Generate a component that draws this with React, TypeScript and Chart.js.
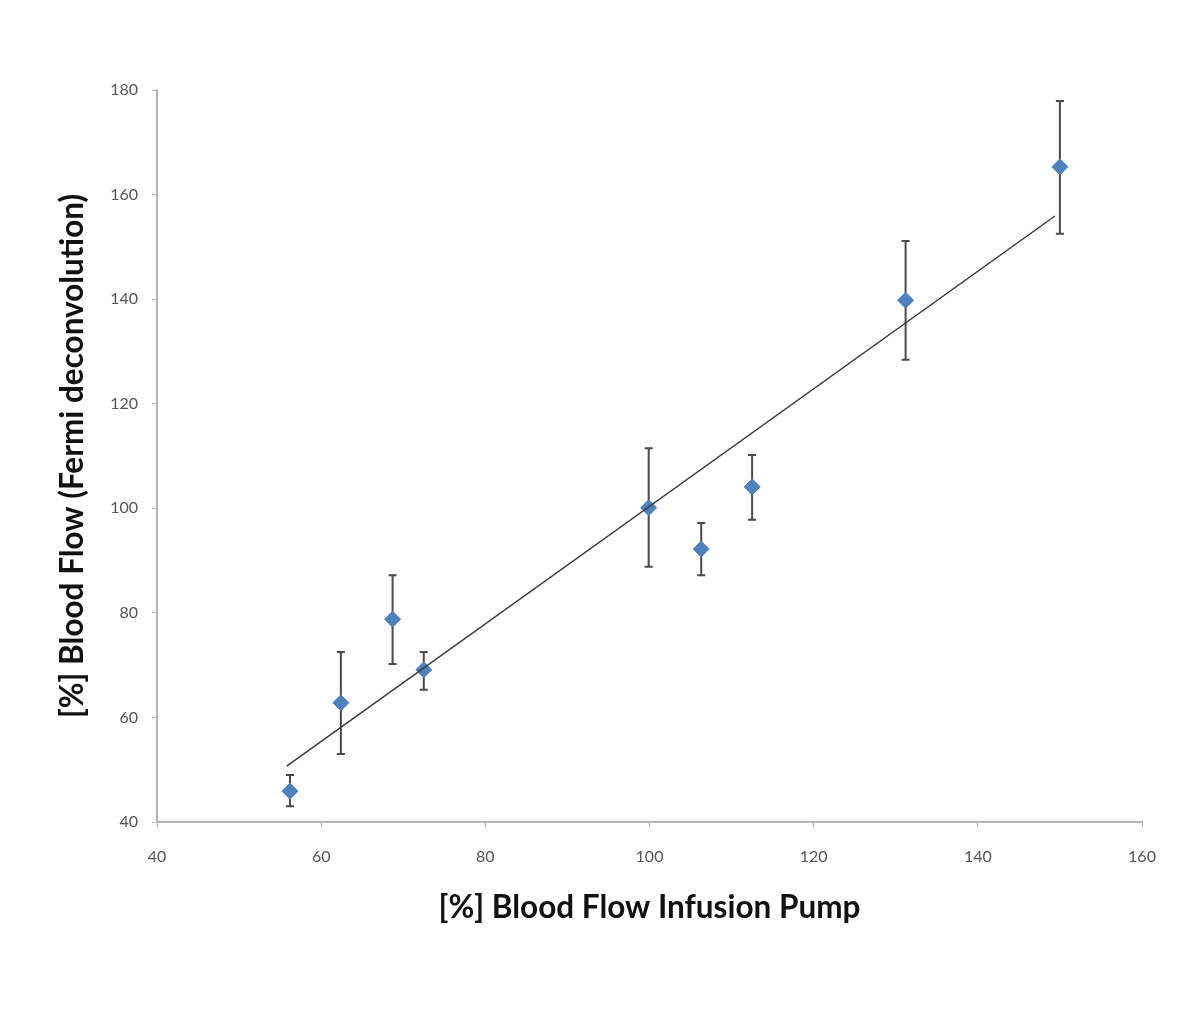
import React, { useEffect, useRef } from "react";
import { Chart, registerables } from "chart.js";

Chart.register(...registerables);

const pumpValues = [56.2, 62.4, 68.7, 72.5, 99.9, 106.3, 112.5, 131.2, 150.0];
const fermiValues = [45.9, 62.8, 78.8, 69.1, 100.1, 92.2, 104.1, 139.8, 165.3];
const errUpper = [49.0, 72.5, 87.2, 72.5, 111.5, 97.2, 110.2, 151.1, 177.9];
const errLower = [43.0, 53.0, 70.2, 65.3, 88.8, 87.2, 97.8, 128.4, 152.5];
const trendX = [55.8, 149.4];
const trendY = [50.7, 155.9];
const xTicks = [40, 60, 80, 100, 120, 140, 160];
const yTicks = [40, 60, 80, 100, 120, 140, 160, 180];

const errorBarPlugin = {
  id: "errorBars",
  beforeDatasetsDraw(chart: any) {
    const { ctx, scales } = chart;
    const xs = scales.x;
    const ys = scales.y;
    ctx.save();
    ctx.strokeStyle = "#4a4a4a";
    ctx.lineWidth = 2;
    pumpValues.forEach((xv, i) => {
      const px = xs.getPixelForValue(xv);
      const top = ys.getPixelForValue(errUpper[i]);
      const bot = ys.getPixelForValue(errLower[i]);
      ctx.beginPath();
      ctx.moveTo(px, top);
      ctx.lineTo(px, bot);
      ctx.moveTo(px - 4, top);
      ctx.lineTo(px + 4, top);
      ctx.moveTo(px - 4, bot);
      ctx.lineTo(px + 4, bot);
      ctx.stroke();
    });
    ctx.restore();
  },
};

export default function App() {
  const ref = useRef<HTMLCanvasElement>(null);
  useEffect(() => {
    if (!ref.current) return;
    const chart = new Chart(ref.current, {
      type: "scatter",
      data: {
        datasets: [
          {
            label: "Trend",
            type: "line",
            data: trendX.map((x, i) => ({ x, y: trendY[i] })),
            borderColor: "#3a3a3a",
            borderWidth: 1.5,
            pointRadius: 0,
            fill: false,
            order: 0,
          } as any,
          {
            label: "Data",
            data: pumpValues.map((x, i) => ({ x, y: fermiValues[i] })),
            pointStyle: "rectRot",
            pointRadius: 8,
            backgroundColor: "#4f81bd",
            borderColor: "#4f81bd",
            borderWidth: 1,
            order: 1,
          },
        ],
      },
      options: {
        responsive: false,
        animation: false,
        layout: { padding: { top: 90, right: 58, left: 0, bottom: 0 } },
        plugins: { legend: { display: false }, tooltip: { enabled: false } },
        scales: {
          x: {
            type: "linear",
            min: 40,
            max: 160,
            afterFit: (s: any) => {
              s.height = 195;
            },
            afterBuildTicks: (s: any) => {
              s.ticks = xTicks.map((v) => ({ value: v }));
            },
            ticks: {
              font: { family: "Lato", size: 16 },
              color: "#555",
              padding: 20,
              maxRotation: 0,
            },
            grid: { drawOnChartArea: false, drawTicks: true, tickLength: 5, color: "#bbbbbb" },
            border: { color: "#b5b5b5", width: 2 },
            title: {
              display: true,
              text: "[%] Blood Flow Infusion Pump",
              font: { family: "Lato", size: 31.5, weight: "bold" },
              color: "#111",
              padding: { top: 0, bottom: 90 },
            },
          },
          y: {
            type: "linear",
            min: 40,
            max: 180,
            afterFit: (s: any) => {
              s.width = 157;
            },
            afterBuildTicks: (s: any) => {
              s.ticks = yTicks.map((v) => ({ value: v }));
            },
            ticks: {
              font: { family: "Lato", size: 16 },
              color: "#555",
              padding: 14,
            },
            grid: { drawOnChartArea: false, drawTicks: true, tickLength: 5, color: "#bbbbbb" },
            border: { color: "#b5b5b5", width: 2 },
            title: {
              display: true,
              text: "[%] Blood Flow (Fermi deconvolution)",
              font: { family: "Lato", size: 31.5, weight: "bold" },
              color: "#111",
              padding: { top: 54, bottom: 0 },
            },
          },
        },
      },
      plugins: [errorBarPlugin],
    });
    return () => chart.destroy();
  }, []);
  return (
    <div style={{ position: "absolute", left: 0, top: 0, width: 1200, height: 1017, background: "#fff" }}>
      <canvas ref={ref} width={1200} height={1017} style={{ display: "block" }} />
    </div>
  );
}
